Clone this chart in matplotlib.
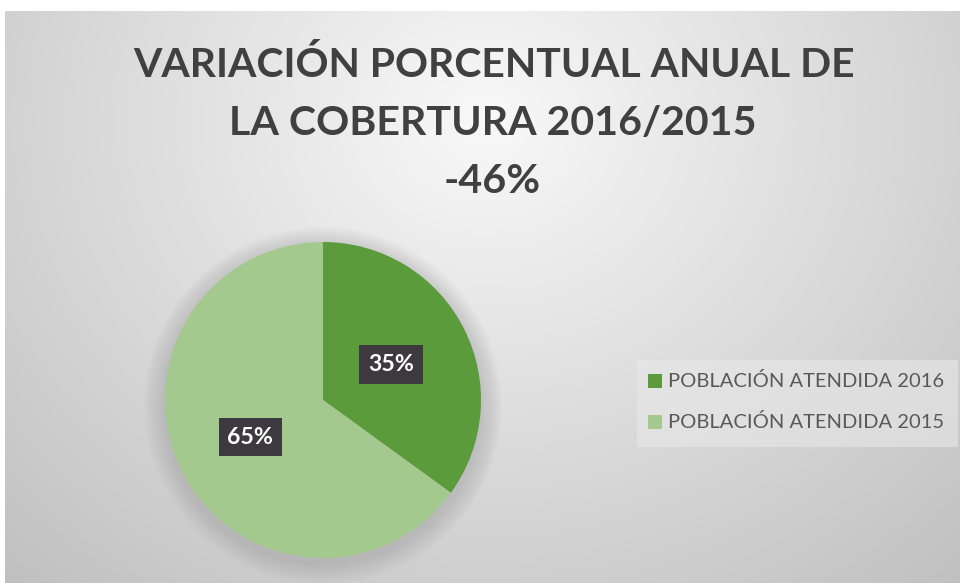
import numpy as np
import matplotlib
matplotlib.use("Agg")
import matplotlib.pyplot as plt
from matplotlib import font_manager as fm
from matplotlib.patches import Circle, Rectangle

title_lines = ["VARIACIÓN PORCENTUAL ANUAL DE", "LA COBERTURA 2016/2015", "-46%"]
categories = ["POBLACIÓN ATENDIDA 2016", "POBLACIÓN ATENDIDA 2015"]
values = [35, 65]
colors = ["#5b9b3b", "#a3c98f"]

names = {f.name for f in fm.fontManager.ttflist}
tfont = "Lato" if "Lato" in names else "DejaVu Sans"
body = "Lato" if "Lato" in names else "DejaVu Sans"

W, H = 960, 583
fig = plt.figure(figsize=(W / 100, H / 100), dpi=100)
fig.patch.set_facecolor("white")
renderer = fig.canvas.get_renderer()


def fit(t, target_w):
    bb = t.get_window_extent(renderer=renderer)
    t.set_fontsize(t.get_fontsize() * target_w / bb.width)


# background radial gradient (chart area starts at x=5, y=11)
bg = fig.add_axes([5 / W, 0, (W - 5) / W, (H - 11) / H])
bg.set_axis_off()
yy, xx = np.mgrid[0:572, 0:955]
cx, cy = 480, 110
d = np.sqrt(((xx - cx) / 640.0) ** 2 + ((yy - cy) / 560.0) ** 2)
g = np.clip(0.975 - 0.20 * d, 0.75, 1.0)
img = np.dstack([g, g, g])
bg.imshow(img, aspect="auto", extent=[0, 1, 0, 1], origin="upper")
bg.set_xlim(0, 1)
bg.set_ylim(0, 1)

# title (baselines in px from top)
ys = [77, 135, 193]
widths = [722, 527, 97]
xs = [494, 493, 492]
for line, y, tw, x in zip(title_lines, ys, widths, xs):
    t = fig.text(x / W, 1 - y / H, line, ha="center", va="baseline",
                 fontsize=30, fontweight="bold", color="#404040", family=tfont)
    fit(t, tw)

# pie
pcx, pcy, r = 323, 400, 158
lim = 1.25
ax = fig.add_axes([(pcx - r * lim) / W, (H - pcy - r * lim) / H,
                   2 * r * lim / W, 2 * r * lim / H])
ax.set_axis_off()
# soft shadow
for i in range(12):
    ax.add_patch(Circle((0.0, -0.035), 1.0 + 0.011 * (12 - i), color="#7a7a7a",
                        alpha=0.025, lw=0, zorder=0))
wedges, _ = ax.pie(values, colors=colors, startangle=90, counterclock=False,
                   radius=1.0, wedgeprops=dict(linewidth=0))
for w in wedges:
    w.set_zorder(2)
ax.set_xlim(-lim, lim)
ax.set_ylim(-lim, lim)
label_pos = [(0.43, 0.225), (-0.46, -0.235)]
for v, (lx, ly) in zip(values, label_pos):
    t = ax.text(lx, ly, f"{v}%", ha="center", va="center", fontsize=15,
                fontweight="bold", color="white", family=body, zorder=5)
    fit(t, 46)
    t.set_bbox(dict(boxstyle="square,pad=0.38", facecolor="#3c3a3e",
                    edgecolor="none"))

# legend
fig.patches.append(Rectangle((637 / W, 1 - 447 / H), 321 / W, 87 / H,
                             transform=fig.transFigure, facecolor="#e8e8e8",
                             edgecolor="none", alpha=0.6, zorder=1))
rows = [387, 428]
for cat, col, y in zip(categories, colors, rows):
    fig.patches.append(Rectangle((648 / W, 1 - (y + 0.5) / H), 14 / W, 14 / H,
                                 transform=fig.transFigure, facecolor=col,
                                 edgecolor="none", zorder=2))
    t = fig.text(668 / W, 1 - y / H, cat, ha="left", va="baseline", fontsize=15,
                 color="#595959", family=body, zorder=3)
    fit(t, 275)

fig.savefig("out.png", dpi=100, facecolor="white")
